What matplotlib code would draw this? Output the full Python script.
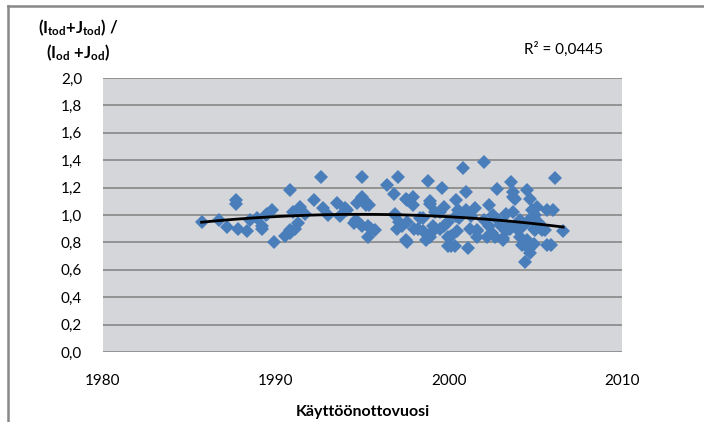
import numpy as np
import matplotlib.pyplot as plt
from matplotlib.lines import Line2D

# commissioning year vs ratio
years = [
    1985.7, 1986.7, 1987.15, 1987.7, 1987.7, 1987.8, 1988.3, 1988.5, 1988.9, 1989.2,
    1989.2, 1989.4, 1989.5, 1989.75, 1989.9, 1990.5, 1990.8, 1990.8, 1991.1, 1990.8,
    1991.0, 1991.4, 1991.3, 1991.7, 1992.2, 1992.6, 1992.7, 1993.0, 1993.5, 1993.7,
    1994.0, 1994.1, 1994.5, 1994.6, 1994.7, 1994.95, 1994.95, 1995.0, 1995.15, 1995.2,
    1995.3, 1995.3, 1995.4, 1995.5, 1995.7, 1996.4, 1996.8, 1997.05, 1996.9, 1996.9,
    1997.1, 1997.0, 1997.3, 1997.5, 1997.5, 1997.55, 1997.55, 1997.55, 1997.9, 1997.9,
    1998.0, 1998.2, 1998.3, 1998.5, 1998.5, 1998.7, 1998.8, 1998.9, 1998.9, 1998.9,
    1999.1, 1999.1, 1999.2, 1999.5, 1999.5, 1999.6, 1999.7, 1999.7, 1999.95, 1999.95,
    1999.95, 2000.1, 2000.1, 2000.35, 2000.4, 2000.4, 2000.45, 2000.5, 2000.6, 2000.7,
    2000.8, 2001.0, 2001.0, 2001.1, 2001.2, 2001.3, 2001.5, 2001.6, 2001.6, 2001.6,
    2002.0, 2002.0, 2002.2, 2002.3, 2002.3, 2002.5, 2002.55, 2002.65, 2002.8, 2002.85,
    2002.95, 2003.1, 2003.1, 2003.2, 2003.3, 2003.3, 2003.6, 2003.7, 2003.7, 2003.7,
    2003.8, 2004.0, 2004.1, 2004.1, 2004.2, 2004.4, 2004.5, 2004.5, 2004.6, 2004.7,
    2004.7, 2004.9, 2004.9, 2004.95, 2005.1, 2005.2, 2005.4, 2005.55, 2005.65, 2005.65,
    2005.9, 2006.0, 2006.1, 2006.6, 2003.5, 2003.9, 2004.3, 2004.6, 2005.0, 2004.8,
]
ratio = [
    0.95, 0.96, 0.91, 1.11, 1.08, 0.90, 0.88, 0.96, 0.98, 0.90,
    0.92, 1.00, 1.01, 1.04, 0.80, 0.85, 0.87, 0.89, 0.90, 1.18,
    1.02, 1.06, 0.94, 1.01, 1.11, 1.28, 1.05, 1.00, 1.09, 0.99,
    1.05, 1.04, 0.94, 0.96, 1.09, 1.13, 1.28, 0.92, 1.10, 1.07,
    0.84, 0.92, 1.07, 0.90, 0.89, 1.22, 1.15, 1.28, 1.00, 1.01,
    0.95, 0.90, 0.92, 0.82, 1.12, 1.11, 0.95, 0.80, 1.13, 1.07,
    0.90, 0.90, 0.98, 0.88, 0.98, 0.82, 1.25, 1.10, 1.08, 0.84,
    0.92, 0.88, 1.02, 1.02, 0.90, 1.20, 1.06, 0.92, 0.95, 0.84,
    0.77, 0.85, 0.77, 0.77, 1.11, 0.99, 0.88, 1.04, 0.98, 1.00,
    1.34, 1.17, 1.04, 0.76, 0.90, 0.99, 1.05, 0.89, 0.84, 0.88,
    1.39, 0.96, 0.84, 1.07, 0.92, 0.87, 1.00, 0.84, 1.19, 0.96,
    0.93, 0.82, 0.83, 0.94, 0.88, 1.01, 1.24, 1.17, 1.13, 1.02,
    1.12, 0.89, 0.96, 0.84, 0.78, 0.66, 1.18, 0.82, 0.75, 1.12,
    0.72, 0.79, 0.90, 0.89, 1.06, 0.94, 0.89, 0.89, 1.04, 0.78,
    0.78, 1.04, 1.27, 0.88, 0.90, 0.93, 0.92, 0.96, 1.00, 1.04,
]

x_ticks = [1980, 1990, 2000, 2010]
y_ticks = [0.0, 0.2, 0.4, 0.6, 0.8, 1.0, 1.2, 1.4, 1.6, 1.8, 2.0]
r2_text = "R\u00b2 = 0,0445"

plt.rcParams['font.family'] = ['Lato', 'DejaVu Sans']
plt.rcParams['mathtext.fontset'] = 'custom'
plt.rcParams['mathtext.rm'] = 'Lato:bold'
plt.rcParams['mathtext.it'] = 'Lato:bold'
plt.rcParams['mathtext.bf'] = 'Lato:bold'

fig = plt.figure(figsize=(7.04, 4.22), dpi=100)
ax = fig.add_axes([0.1463, 0.1659, 0.7372, 0.6493])
ax.set_facecolor('#d4d6d9')

ax.plot(years, ratio, 'D', color='#4a7ebb', ms=6.8, mew=0, zorder=3)

# 2nd order trend line
coef = np.polyfit(years, ratio, 2)
xs = np.linspace(min(years), max(years), 100)
ax.plot(xs, np.polyval(coef, xs), color='black', lw=2.0, zorder=4)

ax.set_xlim(1980, 2010)
ax.set_ylim(0, 2)
ax.set_xticks(x_ticks)
ax.set_yticks(y_ticks)
ax.set_yticklabels([f"{v:.1f}".replace('.', ',') for v in y_ticks])
ax.yaxis.grid(True, color='#878787', lw=1.2)
ax.set_axisbelow(True)
for s in ax.spines.values():
    s.set_visible(False)
ax.tick_params(length=0, labelsize=11, colors='black')
ax.tick_params(axis='y', pad=15)
ax.tick_params(axis='x', pad=16)

ax.set_xlabel('Käyttöönottovuosi', fontsize=11.5, fontweight='bold', labelpad=12)

fig.text(0.111, 0.935, r"(I$_{tod}$+J$_{tod}$) /", fontsize=12, fontweight='bold',
         ha='center', va='center')
fig.text(0.111, 0.875, r"(I$_{od}$ +J$_{od}$)", fontsize=12, fontweight='bold',
         ha='center', va='center')
fig.text(0.8, 0.882, r2_text, fontsize=11, ha='center', va='center')

# outer chart frame (left and top edges)
fig.add_artist(Line2D([0.0115, 0.0115], [0, 0.986], color='#888888', lw=1.8))
fig.add_artist(Line2D([0.0115, 1.0], [0.986, 0.986], color='#888888', lw=1.8))

fig.savefig('out.png', dpi=100)
